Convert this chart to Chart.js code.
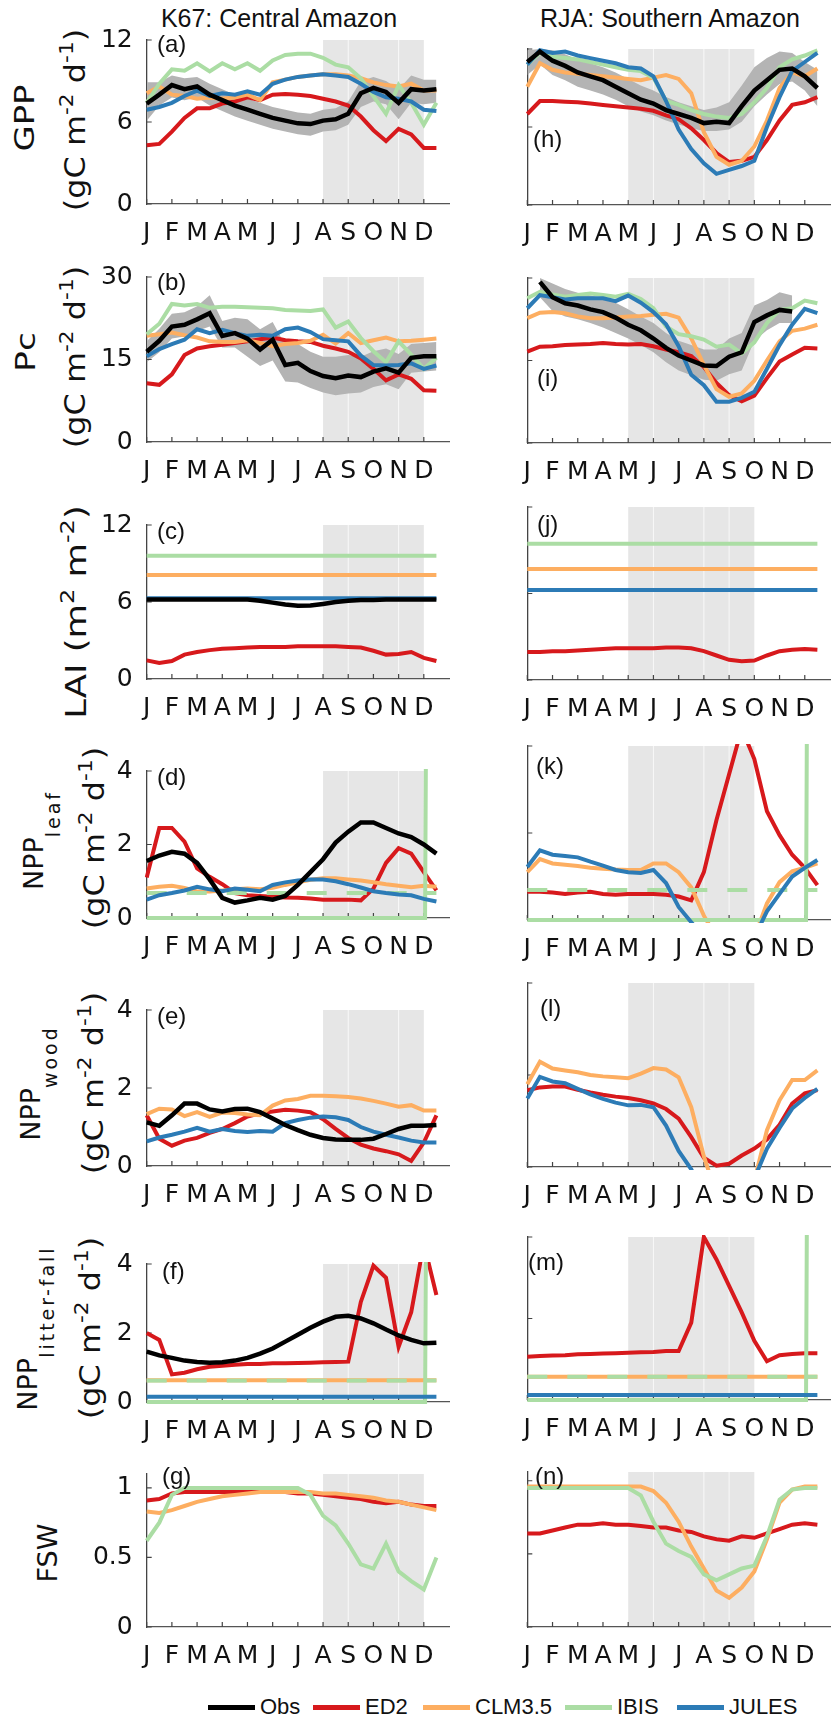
<!DOCTYPE html>
<html>
<head>
<meta charset="utf-8">
<title>K67 and RJA seasonal cycles</title>
<script src="https://cdn.jsdelivr.net/npm/chart.js@4.4.1/dist/chart.umd.min.js"></script>
<style>
  html, body { margin: 0; padding: 0; background: #fff; overflow: hidden; }
  #fig { position: relative; width: 833px; height: 1723px; overflow: hidden; color: #111; }
  #fig canvas { position: absolute; }
  .site { position: absolute; top: 18px; font: 25px "Liberation Sans", Arial, sans-serif; transform: translate(-50%, -50%); white-space: nowrap; }
  .tag { position: absolute; font: 24px "Liberation Sans", Arial, sans-serif; transform: translateY(-50%); white-space: nowrap; }
  .ylab { position: absolute; font: 27px "DejaVu Sans", sans-serif; line-height: 1; white-space: nowrap;
          transform: translate(-50%, -50%) rotate(-90deg) scaleX(var(--sx, 1)); }
  .ylab.units { font-size: 29px; --sx: 1.1; }
  .ylab .sup { font-size: 0.68em; position: relative; top: -0.6em; }
  .ylab .sub { font-size: 19px; letter-spacing: 3px; position: relative; top: 17px; }
  .key { position: absolute; height: 5px; }
  .key-label { position: absolute; font: 22px "Liberation Sans", Arial, sans-serif; transform: translateY(-50%); white-space: nowrap; }
</style>
</head>
<body>
<div id="fig">
  <div class="site" style="left:279px">K67: Central Amazon</div>
  <div class="site" style="left:670px">RJA: Southern Amazon</div>

  <div class="ylab" style="left:24px;top:118px;--sx:1.25">GPP</div>
  <div class="ylab units" style="left:75px;top:120px">(gC m<span class="sup">-2</span> d<span class="sup">-1</span>)</div>
  <div class="ylab" style="left:25px;top:352px;--sx:1.28">Pc</div>
  <div class="ylab units" style="left:75px;top:357px">(gC m<span class="sup">-2</span> d<span class="sup">-1</span>)</div>
  <div class="ylab units" style="left:76px;top:612px;--sx:1.22">LAI (m<span class="sup">2</span> m<span class="sup">-2</span>)</div>
  <div class="ylab" style="left:33px;top:840px">NPP<span class="sub">leaf</span></div>
  <div class="ylab units" style="left:94px;top:838px">(gC m<span class="sup">-2</span> d<span class="sup">-1</span>)</div>
  <div class="ylab" style="left:30px;top:1083px">NPP<span class="sub">wood</span></div>
  <div class="ylab units" style="left:93px;top:1083px">(gC m<span class="sup">-2</span> d<span class="sup">-1</span>)</div>
  <div class="ylab" style="left:27px;top:1328px">NPP<span class="sub">litter-fall</span></div>
  <div class="ylab units" style="left:90px;top:1328px">(gC m<span class="sup">-2</span> d<span class="sup">-1</span>)</div>
  <div class="ylab" style="left:47px;top:1553px">FSW</div>
</div>

<script>
// twice-monthly sample positions on the month axis (1 = Jan tick)
const monthPos = [1, 1.5, 2, 2.5, 3, 3.5, 4, 4.5, 5, 5.5, 6, 6.5, 7, 7.5, 8, 8.5, 9, 9.5, 10, 10.5, 11, 11.5, 12, 12.5];
const monthLetters = ['J', 'F', 'M', 'A', 'M', 'J', 'J', 'A', 'S', 'O', 'N', 'D'];
const flatPos = [1, 12.5];
const spikePos = [1, 12.05, 12.5];

// dry season (month ticks) and the monthly seams inside the shading
const k67Dry = [8, 12];
const k67Seams = [9, 11];
const rjaDry = [5, 10];
const rjaSeams = [6, 8, 9];

const seriesNames = ['Obs', 'ED2', 'CLM3.5', 'IBIS', 'JULES'];
const seriesColors = ['#000000', '#d7191c', '#fdae61', '#abdda4', '#2c7bb6'];

// ---- GPP ----
const k67GppObs   = [7.35, 8.0, 8.7, 8.4, 8.6, 8.0, 7.6, 7.2, 6.9, 6.6, 6.3, 6.1, 5.9, 5.85, 6.1, 6.2, 6.6, 8.1, 8.5, 8.2, 7.4, 8.4, 8.3, 8.4];
const k67GppObsLo = [6.1, 7.2, 7.8, 7.6, 7.8, 7.2, 6.8, 6.4, 6.1, 5.8, 5.5, 5.3, 5.1, 5.0, 5.3, 5.4, 5.8, 7.1, 7.5, 7.3, 6.2, 7.4, 7.3, 7.4];
const k67GppObsHi = [8.9, 8.9, 9.4, 9.2, 9.3, 8.8, 8.4, 8.0, 7.7, 7.4, 7.1, 6.9, 6.7, 6.6, 6.9, 7.0, 7.5, 9.0, 9.3, 9.0, 8.4, 9.4, 9.1, 9.1];
const k67GppEd2   = [4.3, 4.4, 5.3, 6.3, 7.0, 7.0, 7.35, 7.5, 7.8, 7.6, 8.0, 8.05, 8.0, 7.9, 7.7, 7.5, 7.2, 6.4, 5.4, 4.6, 5.5, 5.1, 4.1, 4.1];
const k67GppClm   = [8.1, 8.6, 8.0, 7.9, 7.7, 7.8, 7.7, 7.8, 8.0, 7.6, 8.9, 9.1, 9.3, 9.4, 9.5, 9.5, 9.4, 9.2, 8.9, 8.7, 8.6, 8.8, 8.3, 8.3];
const k67GppIbis  = [7.4, 8.8, 9.85, 9.75, 10.3, 9.7, 10.3, 9.85, 10.3, 9.75, 10.5, 10.9, 11.0, 11.0, 10.7, 10.2, 10.0, 9.2, 7.9, 6.6, 8.7, 7.4, 5.8, 7.4];
const k67GppJules = [6.9, 7.1, 7.4, 7.9, 8.3, 7.9, 8.1, 8.0, 8.25, 8.0, 8.8, 9.1, 9.3, 9.4, 9.5, 9.4, 9.3, 8.8, 8.2, 7.8, 7.7, 7.5, 6.9, 6.8];

const rjaGppObs   = [11.0, 11.8, 11.1, 10.7, 10.2, 9.9, 9.6, 9.1, 8.6, 8.1, 7.8, 7.3, 7.0, 6.7, 6.3, 6.4, 6.3, 7.6, 8.8, 9.6, 10.4, 10.5, 9.9, 9.0];
const rjaGppObsLo = [10.0, 10.8, 10.0, 9.6, 9.1, 8.8, 8.5, 8.1, 7.6, 7.2, 6.9, 6.5, 6.2, 5.9, 5.7, 5.7, 5.8, 6.4, 7.6, 8.5, 9.3, 9.5, 8.8, 7.6];
const rjaGppObsHi = [11.9, 12.0, 11.9, 11.6, 11.2, 10.9, 10.6, 10.2, 9.7, 9.2, 8.8, 8.3, 7.9, 7.6, 7.3, 7.5, 7.9, 9.2, 10.6, 11.3, 11.8, 11.7, 11.0, 10.4];
const rjaGppEd2   = [7.0, 8.0, 8.0, 7.95, 7.9, 7.8, 7.7, 7.6, 7.5, 7.4, 7.25, 6.9, 6.6, 5.9, 5.0, 4.0, 3.3, 3.4, 3.7, 5.0, 6.5, 7.7, 7.9, 8.3];
const rjaGppClm   = [9.1, 10.9, 10.4, 10.2, 10.1, 10.0, 9.9, 9.8, 9.7, 9.6, 9.8, 10.0, 9.7, 8.6, 5.6, 3.7, 3.1, 3.4, 4.5, 6.5, 9.0, 10.2, 9.9, 10.5];
const rjaGppIbis  = [10.8, 11.7, 11.4, 11.3, 11.2, 11.0, 10.8, 10.6, 10.4, 10.3, 9.8, 8.0, 7.7, 7.3, 7.0, 6.8, 6.7, 7.0, 7.9, 9.0, 10.6, 11.2, 11.5, 11.9];
const rjaGppJules = [10.8, 11.9, 11.7, 11.8, 11.5, 11.3, 11.1, 10.9, 10.6, 10.5, 9.9, 8.0, 5.8, 4.3, 3.2, 2.4, 2.7, 3.0, 3.4, 6.0, 8.3, 10.3, 11.0, 11.7];

// ---- Pc ----
const k67PcObs   = [16.4, 18.4, 21.0, 21.3, 22.3, 23.4, 19.3, 19.8, 18.8, 16.8, 18.6, 14.0, 14.4, 12.9, 12.0, 11.6, 12.1, 11.8, 12.8, 13.4, 12.6, 15.3, 15.6, 15.6];
const k67PcObsLo = [14.5, 16.3, 18.8, 19.2, 20.2, 21.0, 17.2, 17.2, 15.5, 13.8, 14.8, 11.0, 10.8, 9.8, 9.0, 8.5, 8.8, 9.0, 10.0, 10.5, 9.6, 12.6, 12.8, 13.0];
const k67PcObsHi = [18.3, 20.6, 23.3, 23.6, 24.7, 26.7, 22.0, 22.6, 22.3, 20.5, 21.8, 17.6, 17.8, 16.4, 15.5, 15.5, 15.8, 15.5, 16.5, 17.0, 16.0, 17.8, 18.0, 18.2];
const k67PcEd2   = [10.7, 10.4, 12.3, 15.8, 17.0, 17.4, 17.7, 18.0, 18.3, 18.7, 19.0, 18.5, 18.3, 18.2, 17.5, 17.0, 16.4, 15.2, 13.3, 11.2, 12.3, 11.5, 9.4, 9.3];
const k67PcClm   = [19.3, 19.6, 19.9, 19.4, 19.0, 18.3, 18.2, 18.2, 18.5, 18.0, 17.4, 17.8, 18.0, 18.4, 19.5, 17.9, 19.8, 18.0, 18.5, 19.0, 18.3, 18.4, 18.6, 18.8];
const k67PcIbis  = [19.6, 21.5, 25.1, 24.8, 25.1, 24.4, 24.6, 24.6, 24.5, 24.4, 24.3, 24.0, 23.9, 23.8, 24.1, 20.8, 21.9, 18.9, 16.5, 14.5, 18.3, 15.9, 13.3, 15.3];
const k67PcJules = [15.6, 16.9, 17.8, 18.6, 20.5, 19.8, 20.4, 19.8, 19.3, 19.5, 19.3, 20.5, 20.8, 20.0, 18.7, 18.5, 18.3, 15.7, 14.0, 13.9, 14.0, 14.3, 13.3, 13.9];

const rjaPcObs   = [null, 29.3, 26.5, 25.4, 25.0, 24.3, 23.8, 22.8, 21.5, 20.5, 19.0, 17.3, 15.9, 15.0, 14.1, 14.0, 15.7, 16.5, 22.0, 23.2, 24.2, 23.9, null, null];
const rjaPcObsLo = [null, 26.5, 24.0, 23.0, 22.5, 21.8, 21.0, 20.0, 19.0, 17.8, 16.5, 14.7, 13.2, 12.3, 11.5, 11.3, 12.5, 13.2, 18.6, 20.5, 21.8, 21.8, null, null];
const rjaPcObsHi = [null, 30.0, 29.0, 28.0, 27.3, 26.8, 26.3, 25.5, 24.3, 23.0, 21.8, 20.0, 18.6, 17.8, 17.0, 17.0, 19.0, 20.0, 25.0, 26.0, 27.4, 26.8, null, null];
const rjaPcEd2   = [16.6, 17.5, 17.6, 17.8, 17.9, 18.0, 18.2, 18.0, 17.9, 18.0, 17.6, 17.0, 16.5, 15.8, 13.8, 10.9, 8.7, 7.6, 8.6, 11.8, 14.8, 16.1, 17.3, 17.2];
const rjaPcClm   = [22.7, 23.7, 23.8, 23.6, 23.0, 22.7, 22.7, 22.8, 23.0, 23.1, 23.3, 23.5, 22.8, 19.0, 14.2, 9.8, 8.4, 9.0, 11.3, 15.0, 18.5, 20.4, 20.8, 21.5];
const rjaPcIbis  = [26.3, 27.5, 27.0, 26.6, 26.9, 27.2, 26.9, 26.6, 27.1, 26.2, 24.5, 21.2, 19.8, 19.4, 18.8, 17.5, 17.9, 16.3, 18.3, 21.8, 24.2, 24.5, 25.9, 25.4];
const rjaPcJules = [24.5, 26.9, 26.5, 26.1, 26.3, 26.3, 26.3, 25.8, 26.8, 25.5, 23.8, 21.6, 17.6, 12.4, 10.5, 7.5, 7.5, 8.2, 9.3, 13.5, 17.8, 21.5, 24.4, 23.6];

// ---- LAI ----
const k67LaiObs   = [6.2, 6.2, 6.2, 6.2, 6.2, 6.2, 6.2, 6.2, 6.2, 6.1, 5.95, 5.8, 5.7, 5.72, 5.85, 6.0, 6.1, 6.15, 6.15, 6.2, 6.2, 6.2, 6.2, 6.2];
const k67LaiEd2   = [1.45, 1.25, 1.4, 1.9, 2.1, 2.25, 2.35, 2.4, 2.45, 2.5, 2.5, 2.5, 2.55, 2.55, 2.55, 2.55, 2.5, 2.45, 2.2, 1.9, 1.95, 2.1, 1.65, 1.4];
const k67LaiClm   = [8.1, 8.1];
const k67LaiIbis  = [9.6, 9.6];
const k67LaiJules = [6.3, 6.3];

const rjaLaiEd2   = [1.95, 1.95, 2.0, 2.0, 2.05, 2.1, 2.15, 2.2, 2.2, 2.2, 2.2, 2.25, 2.25, 2.2, 2.0, 1.7, 1.4, 1.3, 1.35, 1.7, 2.0, 2.1, 2.15, 2.1];
const rjaLaiClm   = [7.7, 7.7];
const rjaLaiIbis  = [9.45, 9.45];
const rjaLaiJules = [6.25, 6.25];

// ---- NPP leaf ----
const k67LeafObs      = [1.55, 1.7, 1.8, 1.75, 1.5, 1.05, 0.55, 0.42, 0.48, 0.55, 0.5, 0.6, 0.9, 1.25, 1.6, 2.05, 2.35, 2.6, 2.6, 2.45, 2.3, 2.2, 2.0, 1.75];
const k67LeafEd2      = [1.1, 2.45, 2.45, 2.08, 1.35, 1.12, 0.92, 0.68, 0.62, 0.6, 0.58, 0.56, 0.55, 0.53, 0.5, 0.5, 0.5, 0.48, 0.8, 1.5, 1.9, 1.75, 1.25, 0.75];
const k67LeafClm      = [0.8, 0.85, 0.88, 0.82, 0.72, 0.72, 0.75, 0.78, 0.8, 0.78, 0.82, 0.9, 0.97, 1.04, 1.08, 1.08, 1.05, 1.02, 0.97, 0.92, 0.88, 0.84, 0.88, 0.85];
const k67LeafJules    = [0.5, 0.62, 0.68, 0.75, 0.85, 0.78, 0.73, 0.8, 0.77, 0.73, 0.9, 0.97, 1.02, 1.05, 1.05, 1.0, 0.92, 0.83, 0.73, 0.68, 0.64, 0.62, 0.52, 0.45];
const k67LeafIbisMean = [0.68, 0.68];
const k67LeafIbis     = [0, 0, 60];

const rjaLeafEd2      = [0.65, 0.65, 0.63, 0.6, 0.63, 0.65, 0.6, 0.58, 0.6, 0.6, 0.6, 0.58, 0.54, 0.45, 1.1, 2.3, 3.35, 4.4, 3.7, 2.5, 1.95, 1.5, 1.2, 0.8];
const rjaLeafClm      = [1.1, 1.4, 1.3, 1.27, 1.24, 1.2, 1.18, 1.16, 1.15, 1.15, 1.3, 1.3, 1.1, 0.75, 0.1, -0.4, -0.4, -0.4, -0.4, 0.38, 0.87, 1.12, 1.2, 1.3];
const rjaLeafJules    = [1.22, 1.6, 1.5, 1.47, 1.44, 1.34, 1.25, 1.15, 1.1, 1.08, 1.15, 0.85, 0.3, -0.05, -0.4, -0.4, -0.4, -0.4, -0.4, 0.2, 0.6, 1.0, 1.2, 1.38];
const rjaLeafIbisMean = [0.69, 0.69];
const rjaLeafIbis     = [0, 0, 60];

// ---- NPP wood ----
const k67WoodObs   = [1.12, 1.03, 1.3, 1.6, 1.6, 1.45, 1.4, 1.46, 1.47, 1.38, 1.22, 1.05, 0.92, 0.8, 0.72, 0.68, 0.67, 0.67, 0.7, 0.82, 0.95, 1.03, 1.03, 1.05];
const k67WoodEd2   = [1.3, 0.7, 0.52, 0.65, 0.72, 0.85, 0.95, 1.1, 1.27, 1.35, 1.4, 1.44, 1.42, 1.38, 1.2, 0.95, 0.72, 0.55, 0.45, 0.38, 0.3, 0.13, 0.6, 1.3];
const k67WoodClm   = [1.33, 1.47, 1.45, 1.28, 1.38, 1.26, 1.37, 1.36, 1.32, 1.3, 1.55, 1.68, 1.72, 1.8, 1.8, 1.79, 1.77, 1.73, 1.67, 1.6, 1.52, 1.56, 1.42, 1.42];
const k67WoodJules = [0.63, 0.73, 0.8, 0.88, 0.98, 0.88, 0.95, 0.9, 0.87, 0.9, 0.88, 1.1, 1.18, 1.24, 1.27, 1.25, 1.18, 1.0, 0.88, 0.8, 0.73, 0.65, 0.6, 0.6];

const rjaWoodEd2   = [1.67, 1.73, 1.75, 1.75, 1.68, 1.62, 1.57, 1.53, 1.5, 1.45, 1.38, 1.26, 1.05, 0.65, 0.2, 0.03, 0.07, 0.25, 0.4, 0.6, 0.92, 1.38, 1.6, 1.67];
const rjaWoodClm   = [1.8, 2.29, 2.14, 2.1, 2.06, 2.0, 1.97, 1.95, 1.93, 2.03, 2.15, 2.12, 1.95, 1.3, 0.23, -0.6, -0.8, -0.8, -0.3, 0.8, 1.45, 1.89, 1.89, 2.1];
const rjaWoodJules = [1.49, 1.96, 1.86, 1.82, 1.7, 1.58, 1.48, 1.4, 1.34, 1.35, 1.3, 0.9, 0.35, -0.05, -0.6, -0.8, -0.8, -0.8, -0.25, 0.4, 0.85, 1.27, 1.5, 1.7];

// ---- NPP litter-fall ----
const k67LitterObs      = [1.46, 1.35, 1.28, 1.2, 1.16, 1.14, 1.15, 1.2, 1.28, 1.4, 1.55, 1.75, 1.95, 2.15, 2.33, 2.47, 2.5, 2.42, 2.28, 2.1, 1.93, 1.8, 1.7, 1.72];
const k67LitterEd2      = [2.0, 1.8, 0.8, 0.85, 0.95, 1.02, 1.05, 1.08, 1.1, 1.1, 1.12, 1.12, 1.13, 1.14, 1.15, 1.16, 1.17, 2.9, 3.95, 3.6, 1.6, 2.6, 4.6, 3.1];
const k67LitterClm      = [0.63, 0.63];
const k67LitterJules    = [0.15, 0.15];
const k67LitterIbisMean = [0.62, 0.62];
const k67LitterIbis     = [0, 0, 60];

const rjaLitterEd2      = [1.06, 1.08, 1.09, 1.1, 1.12, 1.13, 1.14, 1.15, 1.16, 1.17, 1.18, 1.2, 1.2, 1.9, 4.0, 3.45, 2.8, 2.15, 1.45, 0.95, 1.1, 1.13, 1.15, 1.15];
const rjaLitterClm      = [0.57, 0.57];
const rjaLitterJules    = [0.12, 0.12];
const rjaLitterIbisMean = [0.57, 0.57];
const rjaLitterIbis     = [0, 0, 60];

// ---- FSW ----
const k67FswEd2  = [0.91, 0.92, 0.96, 0.97, 0.97, 0.97, 0.97, 0.97, 0.97, 0.97, 0.97, 0.97, 0.96, 0.96, 0.95, 0.94, 0.93, 0.92, 0.9, 0.89, 0.9, 0.88, 0.87, 0.87];
const k67FswClm  = [0.83, 0.82, 0.84, 0.87, 0.9, 0.92, 0.94, 0.95, 0.96, 0.97, 0.97, 0.97, 0.97, 0.97, 0.96, 0.96, 0.95, 0.94, 0.93, 0.91, 0.9, 0.88, 0.86, 0.84];
const k67FswIbis = [0.62, 0.75, 0.95, 1.0, 1.0, 1.0, 1.0, 1.0, 1.0, 1.0, 1.0, 1.0, 1.0, 0.95, 0.8, 0.73, 0.6, 0.45, 0.42, 0.6, 0.4, 0.33, 0.27, 0.5];

const rjaFswEd2  = [0.64, 0.64, 0.66, 0.68, 0.7, 0.7, 0.71, 0.7, 0.7, 0.69, 0.68, 0.68, 0.66, 0.65, 0.62, 0.6, 0.59, 0.62, 0.61, 0.64, 0.67, 0.7, 0.71, 0.7];
const rjaFswClm  = [0.96, 0.96, 0.96, 0.96, 0.96, 0.96, 0.96, 0.96, 0.96, 0.96, 0.93, 0.85, 0.72, 0.55, 0.4, 0.25, 0.2, 0.27, 0.38, 0.6, 0.85, 0.94, 0.96, 0.96];
const rjaFswIbis = [0.95, 0.95, 0.95, 0.95, 0.95, 0.95, 0.95, 0.95, 0.95, 0.9, 0.72, 0.57, 0.52, 0.48, 0.36, 0.32, 0.36, 0.4, 0.42, 0.62, 0.87, 0.94, 0.95, 0.95];

const COLORS = { obs: seriesColors[0], ed2: seriesColors[1], clm: seriesColors[2], ibis: seriesColors[3], jules: seriesColors[4] };
const MONTH_W = 25.82;
const PLOT_W = 12 * MONTH_W;
const PAD_TOP = 20;
const X_AXIS_H = 50;

Chart.defaults.font.family = 'DejaVu Sans';

// flat model lines are stored as two end values, the IBIS leaf-drop as three
function xsFor(ys) {
    if (ys.length === 2) return flatPos;
    if (ys.length === 3) return spikePos;
    return monthPos;
}

function line(ys, color, extra) {
    const xs = xsFor(ys);
    return Object.assign({
        data: xs.map((x, i) => ({ x: x, y: ys[i] })),
        borderColor: color,
        borderWidth: 4,
        pointRadius: 0,
        fill: false,
        tension: 0,
        clip: { left: 2, right: 2, top: 2, bottom: 3 }
    }, extra || {});
}

// datasets listed top-most first
function buildSets(s) {
    const out = [];
    if (s.obs) out.push(line(s.obs, COLORS.obs, { borderWidth: 4.5 }));
    if (s.jules) out.push(line(s.jules, COLORS.jules));
    if (s.ibisMean) out.push(line(s.ibisMean, COLORS.ibis, { borderDash: [20, 20] }));
    if (s.ibis) out.push(line(s.ibis, COLORS.ibis));
    if (s.clm) out.push(line(s.clm, COLORS.clm));
    if (s.ed2) out.push(line(s.ed2, COLORS.ed2));
    if (s.lo) {
        out.push(line(s.hi, 'rgba(0,0,0,0)', { borderWidth: 0, fill: '+1', backgroundColor: '#b4b4b4' }));
        out.push(line(s.lo, 'rgba(0,0,0,0)', { borderWidth: 0 }));
    }
    return out;
}

const panels = [
    { site: 'k67', tag: '(a)', tagAt: [157, 44], top: 31, bottom: 204, max: 12, step: 6,
      sets: { obs: k67GppObs, lo: k67GppObsLo, hi: k67GppObsHi, ed2: k67GppEd2, clm: k67GppClm, ibis: k67GppIbis, jules: k67GppJules } },
    { site: 'rja', tag: '(h)', tagAt: [533, 139], top: 49, bottom: 205, max: 12, step: 6,
      sets: { obs: rjaGppObs, lo: rjaGppObsLo, hi: rjaGppObsHi, ed2: rjaGppEd2, clm: rjaGppClm, ibis: rjaGppIbis, jules: rjaGppJules } },
    { site: 'k67', tag: '(b)', tagAt: [157, 282], top: 268, bottom: 442, max: 30, step: 15,
      sets: { obs: k67PcObs, lo: k67PcObsLo, hi: k67PcObsHi, ed2: k67PcEd2, clm: k67PcClm, ibis: k67PcIbis, jules: k67PcJules } },
    { site: 'rja', tag: '(i)', tagAt: [537, 378], top: 278, bottom: 443, max: 30, step: 15,
      sets: { obs: rjaPcObs, lo: rjaPcObsLo, hi: rjaPcObsHi, ed2: rjaPcEd2, clm: rjaPcClm, ibis: rjaPcIbis, jules: rjaPcJules } },
    { site: 'k67', tag: '(c)', tagAt: [157, 531], top: 516, bottom: 679, max: 12, step: 6,
      sets: { obs: k67LaiObs, ed2: k67LaiEd2, clm: k67LaiClm, ibis: k67LaiIbis, jules: k67LaiJules } },
    { site: 'rja', tag: '(j)', tagAt: [537, 524], top: 507, bottom: 680, max: 12, step: 6,
      sets: { ed2: rjaLaiEd2, clm: rjaLaiClm, ibis: rjaLaiIbis, jules: rjaLaiJules } },
    { site: 'k67', tag: '(d)', tagAt: [157, 777], top: 762, bottom: 918, max: 4, step: 2,
      sets: { obs: k67LeafObs, ed2: k67LeafEd2, clm: k67LeafClm, ibisMean: k67LeafIbisMean, ibis: k67LeafIbis, jules: k67LeafJules } },
    { site: 'rja', tag: '(k)', tagAt: [536, 766], top: 746, bottom: 920, max: 4, step: 2,
      sets: { ed2: rjaLeafEd2, clm: rjaLeafClm, ibisMean: rjaLeafIbisMean, ibis: rjaLeafIbis, jules: rjaLeafJules } },
    { site: 'k67', tag: '(e)', tagAt: [157, 1016], top: 1001, bottom: 1166, max: 4, step: 2,
      sets: { obs: k67WoodObs, ed2: k67WoodEd2, clm: k67WoodClm, jules: k67WoodJules } },
    { site: 'rja', tag: '(l)', tagAt: [540, 1008], top: 983, bottom: 1167, max: 4, step: 2,
      sets: { ed2: rjaWoodEd2, clm: rjaWoodClm, jules: rjaWoodJules } },
    { site: 'k67', tag: '(f)', tagAt: [162, 1271], top: 1255, bottom: 1402, max: 4, step: 2,
      sets: { obs: k67LitterObs, ed2: k67LitterEd2, clm: k67LitterClm, ibisMean: k67LitterIbisMean, ibis: k67LitterIbis, jules: k67LitterJules } },
    { site: 'rja', tag: '(m)', tagAt: [528, 1262], top: 1237, bottom: 1400, max: 4, step: 2,
      sets: { ed2: rjaLitterEd2, clm: rjaLitterClm, ibisMean: rjaLitterIbisMean, ibis: rjaLitterIbis, jules: rjaLitterJules } },
    { site: 'k67', tag: '(g)', tagAt: [162, 1476], top: 1465, bottom: 1627, max: 1.1, step: 0.5,
      sets: { ed2: k67FswEd2, clm: k67FswClm, ibis: k67FswIbis } },
    { site: 'rja', tag: '(n)', tagAt: [535, 1476], top: 1472, bottom: 1627, max: 1.06, step: 0.5,
      sets: { ed2: rjaFswEd2, clm: rjaFswClm, ibis: rjaFswIbis } }
];

// dry-season shading plus inward MATLAB-style tick marks
const seasonPlugin = {
    id: 'season',
    beforeDraw(chart, args, opts) {
        const { ctx, chartArea: a, scales: { x } } = chart;
        const x0 = x.getPixelForValue(opts.range[0]);
        const x1 = x.getPixelForValue(opts.range[1]);
        ctx.save();
        ctx.fillStyle = '#e6e6e6';
        ctx.fillRect(x0, a.top, x1 - x0, a.bottom - a.top);
        ctx.strokeStyle = 'rgba(255,255,255,0.75)';
        ctx.lineWidth = 1;
        opts.seams.forEach(m => {
            const px = x.getPixelForValue(m);
            ctx.beginPath();
            ctx.moveTo(px, a.top);
            ctx.lineTo(px, a.bottom);
            ctx.stroke();
        });
        ctx.restore();
    },
    beforeDatasetsDraw(chart) {
        const { ctx, chartArea: a, scales: { x, y } } = chart;
        ctx.save();
        ctx.strokeStyle = '#444';
        ctx.lineWidth = 1.2;
        ctx.beginPath();
        x.ticks.forEach(t => {
            if (t.value > 12) return;
            const px = x.getPixelForValue(t.value);
            ctx.moveTo(px, a.bottom);
            ctx.lineTo(px, a.bottom - 5);
        });
        y.ticks.forEach(t => {
            const py = y.getPixelForValue(t.value);
            ctx.moveTo(a.left, py);
            ctx.lineTo(a.left + 5, py);
        });
        ctx.stroke();
        ctx.restore();
    }
};

const fig = document.getElementById('fig');

function makePanel(p) {
    const isLeft = p.site === 'k67';
    const plotLeft = isLeft ? 146.7 : 527.3;
    const yW = isLeft ? plotLeft : 20.3;
    const width = Math.ceil(yW + PLOT_W + 6);
    const height = PAD_TOP + (p.bottom - p.top) + X_AXIS_H;

    const canvas = document.createElement('canvas');
    canvas.width = width;
    canvas.height = height;
    canvas.style.left = (plotLeft - yW) + 'px';
    canvas.style.top = (p.top - PAD_TOP) + 'px';
    canvas.style.width = width + 'px';
    canvas.style.height = height + 'px';
    fig.appendChild(canvas);

    const tickFont = { family: 'DejaVu Sans', size: 25 };

    new Chart(canvas.getContext('2d'), {
        type: 'line',
        data: { datasets: buildSets(p.sets) },
        options: {
            responsive: false,
            animation: false,
            devicePixelRatio: 1,
            layout: { padding: { top: PAD_TOP, right: width - yW - PLOT_W, bottom: 0, left: 0 } },
            plugins: {
                legend: { display: false },
                tooltip: { enabled: false },
                filler: { drawTime: 'beforeDatasetsDraw' },
                season: isLeft ? { range: k67Dry, seams: k67Seams } : { range: rjaDry, seams: rjaSeams }
            },
            scales: {
                x: {
                    type: 'linear',
                    min: 1,
                    max: 13,
                    grid: { display: false, drawTicks: false },
                    border: { display: true, color: '#555', width: 1.3 },
                    ticks: {
                        stepSize: 1,
                        maxTicksLimit: 20,
                        autoSkip: false,
                        maxRotation: 0,
                        padding: 14,
                        color: '#111',
                        font: tickFont,
                        callback: v => monthLetters[v - 1] || ''
                    },
                    afterFit: s => { s.height = X_AXIS_H; }
                },
                y: {
                    min: 0,
                    max: p.max,
                    grid: { display: false, drawTicks: false },
                    border: { display: true, color: '#444', width: 1.3 },
                    ticks: {
                        display: isLeft,
                        stepSize: p.step,
                        includeBounds: false,
                        padding: 14,
                        color: '#111',
                        font: tickFont,
                        callback: v => String(v)
                    },
                    afterFit: s => { s.width = yW; }
                }
            }
        },
        plugins: [seasonPlugin]
    });

    const tag = document.createElement('div');
    tag.className = 'tag';
    tag.textContent = p.tag;
    tag.style.left = p.tagAt[0] + 'px';
    tag.style.top = p.tagAt[1] + 'px';
    fig.appendChild(tag);
}

panels.forEach(makePanel);

// legend row under both columns
const legendY = 1707;
const keyStarts = [208, 313, 423, 565, 677];
seriesNames.forEach((name, i) => {
    const key = document.createElement('div');
    key.className = 'key';
    key.style.left = keyStarts[i] + 'px';
    key.style.top = (legendY - 2.5) + 'px';
    key.style.width = '47px';
    key.style.background = seriesColors[i];
    fig.appendChild(key);

    const label = document.createElement('div');
    label.className = 'key-label';
    label.textContent = name;
    label.style.left = (keyStarts[i] + 52) + 'px';
    label.style.top = legendY + 'px';
    fig.appendChild(label);
});
</script>
</body>
</html>
